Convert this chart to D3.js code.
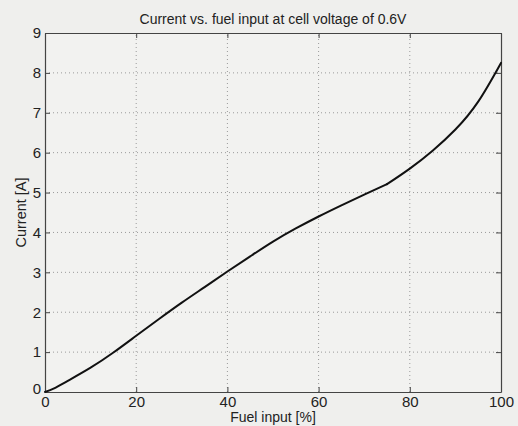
<!DOCTYPE html>
<html>
<head>
<meta charset="utf-8">
<script src="https://cdn.jsdelivr.net/npm/d3@7.9.0/dist/d3.min.js"></script>
<style>
  body { margin: 0; background: #efefed; }
  svg { display: block; font-family: "Liberation Sans", Arial, sans-serif; }
</style>
</head>
<body>
<svg id="chart" width="518" height="426"></svg>
<script>
// values
const fuel = [0, 2, 5, 10, 15, 20, 25, 30, 35, 40, 45, 50, 55, 60, 65, 70, 75, 80, 85, 90, 95, 100];
const current = [0, 0.09, 0.28, 0.61, 0.99, 1.41, 1.83, 2.24, 2.63, 3.02, 3.4, 3.77, 4.1, 4.4, 4.68, 4.95, 5.21, 5.6, 6.05, 6.58, 7.28, 8.25];
const xTicks = [0, 20, 40, 60, 80, 100];
const yTicks = [0, 1, 2, 3, 4, 5, 6, 7, 8, 9];
const kink = 75; // slope changes here

const W = 518, H = 426;
const margin = { top: 33, right: 17, bottom: 34, left: 45 };

const svg = d3.select('#chart');

const x = d3.scaleLinear().domain([0, 100]).range([margin.left, W - margin.right]);
const y = d3.scaleLinear().domain([0, 9]).range([H - margin.bottom, margin.top]);

// background of the axes
svg.append('rect')
  .attr('x', x(0)).attr('y', y(9))
  .attr('width', x(100) - x(0)).attr('height', y(0) - y(9))
  .attr('fill', '#f2f2f0');

// dotted grid
const grid = svg.append('g').attr('stroke', '#9a9a9a').attr('stroke-width', 1).attr('stroke-dasharray', '1,3');
grid.selectAll('.gx').data(xTicks.slice(1, -1)).join('line')
  .attr('x1', d => x(d)).attr('x2', d => x(d))
  .attr('y1', y(0)).attr('y2', y(9));
grid.selectAll('.gy').data(yTicks.slice(1, -1)).join('line')
  .attr('x1', x(0)).attr('x2', x(100))
  .attr('y1', d => y(d)).attr('y2', d => y(d));

// axes: ticks point inwards like matlab
const tickLen = 5;
const axisColor = '#444';

const xAxis = svg.append('g').attr('transform', `translate(0,${y(0)})`)
  .call(d3.axisBottom(x).tickValues(xTicks).tickSizeInner(-tickLen).tickSizeOuter(0).tickPadding(4));
const xTop = svg.append('g').attr('transform', `translate(0,${y(9)})`)
  .call(d3.axisTop(x).tickValues(xTicks).tickSizeInner(-tickLen).tickSizeOuter(0).tickFormat(''));
const yAxis = svg.append('g').attr('transform', `translate(${x(0)},0)`)
  .call(d3.axisLeft(y).tickValues(yTicks).tickSizeInner(-tickLen).tickSizeOuter(0).tickPadding(4));
const yRight = svg.append('g').attr('transform', `translate(${x(100)},0)`)
  .call(d3.axisRight(y).tickValues(yTicks).tickSizeInner(-tickLen).tickSizeOuter(0).tickFormat(''));

[xAxis, xTop, yAxis, yRight].forEach(g => {
  g.select('.domain').attr('stroke', axisColor).attr('stroke-width', 1.2);
  g.selectAll('.tick line').attr('stroke', axisColor).attr('stroke-width', 1);
  g.selectAll('.tick text').attr('fill', '#222').style('font-size', '15px');
});
xAxis.selectAll('.tick text').attr('dy', '0.75em');
// the y "0" sits a bit above the corner
yAxis.selectAll('.tick text').filter(d => d === 0).attr('dy', '0.1em');

// curve, split at the kink so the corner stays sharp
const pts = fuel.map((f, i) => [f, current[i]]);
const line = d3.line().x(d => x(d[0])).y(d => y(d[1])).curve(d3.curveNatural);
const parts = [pts.filter(d => d[0] <= kink), pts.filter(d => d[0] >= kink)];
svg.selectAll('.curve').data(parts).join('path')
  .attr('class', 'curve')
  .attr('d', line)
  .attr('fill', 'none')
  .attr('stroke', '#111')
  .attr('stroke-width', 2)
  .attr('stroke-linejoin', 'round')
  .attr('stroke-linecap', 'round');

// labels
svg.append('text')
  .attr('x', (x(0) + x(100)) / 2).attr('y', 24)
  .attr('text-anchor', 'middle')
  .attr('fill', '#222')
  .style('font-size', '14px')
  .text('Current vs. fuel input at cell voltage of 0.6V');

svg.append('text')
  .attr('x', (x(0) + x(100)) / 2).attr('y', 422)
  .attr('text-anchor', 'middle')
  .attr('fill', '#222')
  .style('font-size', '14px')
  .text('Fuel input [%]');

svg.append('text')
  .attr('transform', `translate(26,${(y(0) + y(9)) / 2}) rotate(-90)`)
  .attr('text-anchor', 'middle')
  .attr('fill', '#222')
  .style('font-size', '14.5px')
  .text('Current [A]');
</script>
</body>
</html>
